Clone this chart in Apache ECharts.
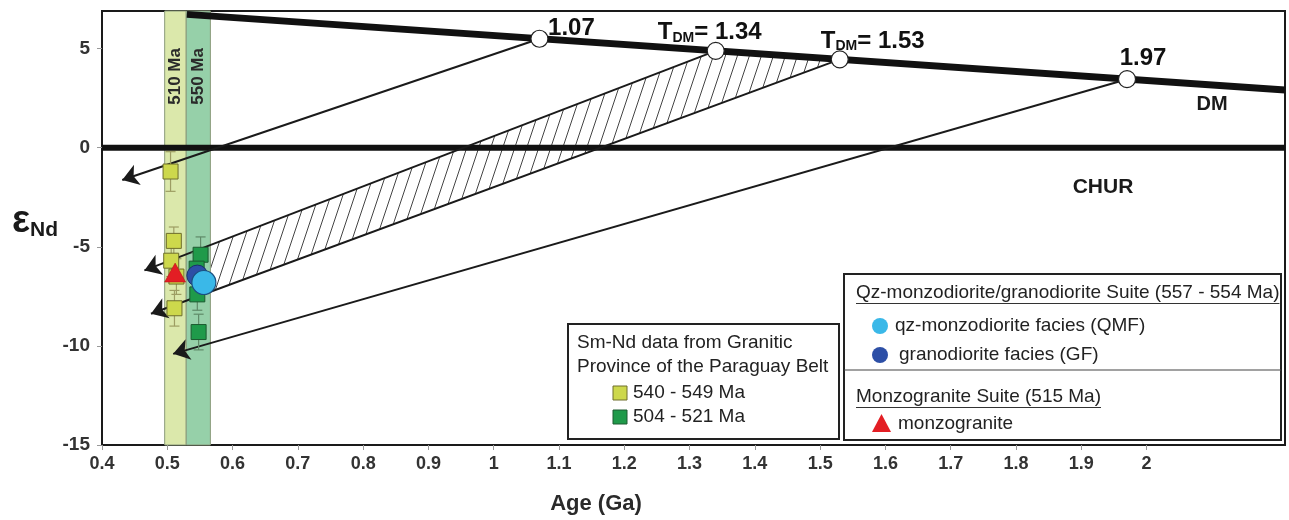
<!DOCTYPE html>
<html>
<head>
<meta charset="utf-8">
<script src="https://cdn.jsdelivr.net/npm/echarts@6/dist/echarts.min.js"></script>
<style>
  html, body { margin: 0; padding: 0; background: #fff; }
  #chart { width: 1289px; height: 520px; }
</style>
</head>
<body>
<div id="chart"></div>
<script>
// ---- axis ranges and tick labels ----
const xMin = 0.4, xMax = 2.212, xStep = 0.1;
const yMin = -15, yMax = 6.9, yStep = 5;
const xTickValues = [0.4, 0.5, 0.6, 0.7, 0.8, 0.9, 1, 1.1, 1.2, 1.3, 1.4, 1.5, 1.6, 1.7, 1.8, 1.9, 2];
const yTickValues = [-15, -10, -5, 0, 5];

// ---- reference evolution lines (age Ga, εNd) ----
const dmLine = [[0.53, 6.73], [2.212, 2.91]];
const churLine = [[0.4, 0], [2.212, 0]];

// ---- depleted-mantle model ages on the DM line ----
const tdmAges = [1.07, 1.34, 1.53, 1.97];
const tdmEps = [5.50, 4.89, 4.46, 3.46];
const tdmLabels = ['1.07', 'T_DM= 1.34', 'T_DM= 1.53', '1.97'];
// where each Nd evolution line ends (arrow tip)
const arrowTips = [[0.431, -1.63], [0.465, -6.19], [0.475, -8.38], [0.509, -10.40]];

// ---- crystallisation age bands ----
const bandRanges = [[0.496, 0.529], [0.529, 0.566]];
const bandNames = ['510 Ma', '550 Ma'];

// ---- Sm-Nd data, Granitic Province of the Paraguay Belt ----
const groupAAge = [0.505, 0.510, 0.506, 0.514, 0.511];
const groupAEps = [-1.2, -4.7, -5.7, -6.5, -8.1];
const groupAErr = [1.0, 0.7, 0.8, 0.9, 0.9];

const groupBAge = [0.551, 0.545, 0.546, 0.548];
const groupBEps = [-5.4, -6.1, -7.4, -9.3];
const groupBErr = [0.9, 0.8, 0.8, 0.9];

// ---- this study ----
const monzoAge = [0.512];
const monzoEps = [-6.3];
const gfAge = [0.546];
const gfEps = [-6.45];
const qmfAge = [0.556];
const qmfEps = [-6.8];

const FONT = '"Liberation Sans", Arial, sans-serif';

// diagonal hatch tile
const hatch = document.createElement('canvas');
hatch.width = 12; hatch.height = 36;
(function () {
  const c = hatch.getContext('2d');
  c.strokeStyle = '#444';
  c.lineWidth = 1;
  for (let k = -1; k <= 1; k++) {
    c.beginPath();
    c.moveTo(-12 + k * 12, 72);
    c.lineTo(24 + k * 12, -36);
    c.stroke();
  }
})();

const zip3 = (a, b, c) => a.map((v, i) => [v, b[i], c[i]]);
const zip2 = (a, b) => a.map((v, i) => [v, b[i]]);

function errorBars(color) {
  return function (params, api) {
    const x = api.value(0), y = api.value(1), e = api.value(2);
    const top = api.coord([x, y + e]);
    const bot = api.coord([x, y - e]);
    const cap = 5;
    const st = { stroke: color, lineWidth: 1.2 };
    return {
      type: 'group',
      children: [
        { type: 'line', shape: { x1: top[0], y1: top[1], x2: bot[0], y2: bot[1] }, style: st },
        { type: 'line', shape: { x1: top[0] - cap, y1: top[1], x2: top[0] + cap, y2: top[1] }, style: st },
        { type: 'line', shape: { x1: bot[0] - cap, y1: bot[1], x2: bot[0] + cap, y2: bot[1] }, style: st }
      ]
    };
  };
}

// text measurement for underlined legend headings
const mctx = document.createElement('canvas').getContext('2d');
function textW(t, font) { mctx.font = font; return mctx.measureText(t).width; }

const LF = '19px "Liberation Sans", Arial, sans-serif';
const head1 = 'Qz-monzodiorite/granodiorite Suite (557 - 554 Ma)';
const head2 = 'Monzogranite Suite (515 Ma)';

const labelOffsets = [[32, -10], [-6, -18], [33, -18], [16, -21]];
const tdmRich = {
  n: { fontFamily: FONT, fontWeight: 'bold', fontSize: 24, color: '#111' },
  t: { fontFamily: FONT, fontWeight: 'bold', fontSize: 24, color: '#111' },
  s: { fontFamily: FONT, fontWeight: 'bold', fontSize: 14, color: '#111', verticalAlign: 'bottom', padding: [8, 0, 0, 0] }
};
function tdmText(lbl) {
  if (lbl.indexOf('T_DM') === 0) return '{t|T}{s|DM}{t|' + lbl.slice(4) + '}';
  return '{n|' + lbl + '}';
}

const chart = echarts.init(document.getElementById('chart'), null, { renderer: 'canvas' });

const option = {
  animation: false,
  backgroundColor: '#ffffff',
  grid: { left: 102, right: 4, top: 11, bottom: 75, show: true, borderColor: '#1a1a1a', borderWidth: 2 },
  xAxis: {
    type: 'value', min: xMin, max: xMax, interval: xStep,
    axisLine: { onZero: false, lineStyle: { color: '#1a1a1a', width: 2 } },
    axisTick: { show: true, length: 5, customValues: xTickValues, lineStyle: { color: '#999' } },
    axisLabel: { customValues: xTickValues, margin: 10, fontFamily: FONT, fontWeight: 'bold', fontSize: 18, color: '#333' },
    splitLine: { show: false }
  },
  yAxis: {
    type: 'value', min: yMin, max: yMax, interval: yStep,
    axisLine: { onZero: false, lineStyle: { color: '#1a1a1a', width: 2 } },
    axisTick: { show: true, length: 5, customValues: yTickValues, lineStyle: { color: '#999' } },
    axisLabel: { customValues: yTickValues, margin: 12, fontFamily: FONT, fontWeight: 'bold', fontSize: 19, color: '#333' },
    splitLine: { show: false }
  },
  series: [
    // hatched field between the 1.34 and 1.53 Ga evolution lines
    {
      type: 'custom', z: 1, silent: true,
      data: [[tdmAges[1], tdmEps[1]]],
      renderItem: function (params, api) {
        const p2 = [tdmAges[1], tdmEps[1]], p3 = [tdmAges[2], tdmEps[2]];
        const a2 = arrowTips[1], a3 = arrowTips[2];
        const cut = bandRanges[1][1];
        const at = (p, a) => { const t = (cut - a[0]) / (p[0] - a[0]); return [cut, a[1] + t * (p[1] - a[1])]; };
        const pts = [p2, p3, at(p3, a3), at(p2, a2)].map(v => api.coord(v));
        return { type: 'polygon', shape: { points: pts }, style: { fill: { image: hatch, repeat: 'repeat' }, stroke: null } };
      }
    },
    // age bands
    {
      type: 'custom', z: 2, silent: true,
      data: bandRanges.map((r, i) => [r[0], r[1], i]),
      renderItem: function (params, api) {
        const a = api.coord([api.value(0), yMax]);
        const b = api.coord([api.value(1), yMin]);
        const i = api.value(2);
        const fills = ['#dbe8ab', '#96d0a9'];
        const mid = api.coord([(api.value(0) + api.value(1)) / 2, 3.6]);
        return {
          type: 'group',
          children: [
            { type: 'rect', shape: { x: a[0], y: a[1], width: b[0] - a[0], height: b[1] - a[1] }, style: { fill: fills[i], stroke: '#8a9a7a', lineWidth: 1 } },
            { type: 'text', x: mid[0], y: mid[1], rotation: Math.PI / 2,
              style: { text: bandNames[i], align: 'center', verticalAlign: 'middle', font: 'bold 17px ' + FONT, fill: '#2a2a2a' } }
          ]
        };
      }
    },
    // CHUR
    {
      type: 'line', z: 3, data: churLine, symbol: 'none', silent: true,
      lineStyle: { color: '#111', width: 6 }
    },
    // DM
    {
      type: 'line', z: 3, data: dmLine, symbol: 'none', silent: true,
      lineStyle: { color: '#111', width: 7 }
    },
    // Nd evolution lines with arrows
    {
      type: 'lines', coordinateSystem: 'cartesian2d', z: 4, silent: true,
      symbol: ['none', 'arrow'], symbolSize: 16,
      lineStyle: { color: '#1a1a1a', width: 2, opacity: 1, curveness: 0 },
      data: tdmAges.map((a, i) => ({ coords: [[a, tdmEps[i]], arrowTips[i]] }))
    },
    // model-age points
    {
      type: 'scatter', z: 6, symbol: 'circle', symbolSize: 17, silent: true,
      itemStyle: { color: '#fff', borderColor: '#222', borderWidth: 1.2, opacity: 1 },
      data: tdmAges.map((a, i) => ({
        value: [a, tdmEps[i]],
        label: {
          show: true, position: 'inside', offset: labelOffsets[i],
          formatter: tdmText(tdmLabels[i]), rich: tdmRich
        }
      }))
    },
    // error bars
    { type: 'custom', z: 5, silent: true, data: zip3(groupAAge, groupAEps, groupAErr), renderItem: errorBars('#9d9d63') },
    { type: 'custom', z: 5, silent: true, data: zip3(groupBAge, groupBEps, groupBErr), renderItem: errorBars('#5f8a68') },
    // squares
    {
      name: '540 - 549 Ma', type: 'scatter', z: 6, symbol: 'rect', symbolSize: 15, silent: true,
      itemStyle: { color: '#cdd84c', borderColor: '#6e6e2c', borderWidth: 1, opacity: 1 },
      data: zip2(groupAAge, groupAEps)
    },
    {
      name: '504 - 521 Ma', type: 'scatter', z: 6, symbol: 'rect', symbolSize: 15, silent: true,
      itemStyle: { color: '#1f9a4a', borderColor: '#1c5a30', borderWidth: 1, opacity: 1 },
      data: zip2(groupBAge, groupBEps)
    },
    {
      name: 'monzogranite', type: 'scatter', z: 7, symbol: 'triangle', symbolSize: [21, 19], silent: true,
      itemStyle: { color: '#e31e24', borderColor: '#b01015', borderWidth: 0.5, opacity: 1 },
      data: zip2(monzoAge, monzoEps)
    },
    {
      name: 'granodiorite facies (GF)', type: 'scatter', z: 7, symbol: 'circle', symbolSize: 21, silent: true,
      itemStyle: { color: '#2d4fa6', borderColor: '#1b2f6a', borderWidth: 1, opacity: 1 },
      data: zip2(gfAge, gfEps)
    },
    {
      name: 'qz-monzodiorite facies (QMF)', type: 'scatter', z: 8, symbol: 'circle', symbolSize: 24, silent: true,
      itemStyle: { color: '#3ab8e8', borderColor: '#1b4f80', borderWidth: 1.2, opacity: 1 },
      data: zip2(qmfAge, qmfEps)
    }
  ],
  graphic: [
    // curve labels
    { type: 'text', x: 1212, y: 104, style: { text: 'DM', font: 'bold 20px ' + FONT, fill: '#1a1a1a', align: 'center', verticalAlign: 'middle' } },
    { type: 'text', x: 1103, y: 187, style: { text: 'CHUR', font: 'bold 21px ' + FONT, fill: '#1a1a1a', align: 'center', verticalAlign: 'middle' } },
    // axis titles
    { type: 'text', x: 596, y: 504, style: { text: 'Age (Ga)', font: 'bold 22px ' + FONT, fill: '#2a2a2a', align: 'center', verticalAlign: 'middle' } },
    { type: 'text', x: 12, y: 222, style: {
        text: '{e|ε}{n|Nd}', verticalAlign: 'middle',
        rich: {
          e: { fontFamily: FONT, fontWeight: 'bold', fontSize: 38, fill: '#1a1a1a', color: '#1a1a1a' },
          n: { fontFamily: FONT, fontWeight: 'bold', fontSize: 21, fill: '#1a1a1a', color: '#1a1a1a', verticalAlign: 'bottom', padding: [10, 0, 0, 0] }
        }
    } },
    // legend: Paraguay Belt data
    { type: 'rect', shape: { x: 568, y: 324, width: 271, height: 115 }, style: { fill: '#fff', stroke: '#222', lineWidth: 2 }, z: 10 },
    { type: 'text', x: 577, y: 343, z: 11, style: { text: 'Sm-Nd data from Granitic', font: LF, fill: '#222', verticalAlign: 'middle' } },
    { type: 'text', x: 577, y: 367, z: 11, style: { text: 'Province of the Paraguay Belt', font: LF, fill: '#222', verticalAlign: 'middle' } },
    { type: 'rect', z: 11, shape: { x: 613, y: 386, width: 14, height: 14 }, style: { fill: '#cdd84c', stroke: '#6e6e2c', lineWidth: 1 } },
    { type: 'text', x: 633, y: 393, z: 11, style: { text: '540 - 549 Ma', font: LF, fill: '#222', verticalAlign: 'middle' } },
    { type: 'rect', z: 11, shape: { x: 613, y: 410, width: 14, height: 14 }, style: { fill: '#1f9a4a', stroke: '#1c5a30', lineWidth: 1 } },
    { type: 'text', x: 633, y: 417, z: 11, style: { text: '504 - 521 Ma', font: LF, fill: '#222', verticalAlign: 'middle' } },
    // legend: suites
    { type: 'rect', shape: { x: 844, y: 274, width: 437, height: 166 }, style: { fill: '#fff', stroke: '#222', lineWidth: 2 }, z: 10 },
    { type: 'line', z: 11, shape: { x1: 844, y1: 370, x2: 1281, y2: 370 }, style: { stroke: '#444', lineWidth: 1.2 } },
    { type: 'text', x: 856, y: 293, z: 11, style: { text: head1, font: LF, fill: '#222', verticalAlign: 'middle' } },
    { type: 'line', z: 11, shape: { x1: 856, y1: 303.5, x2: 856 + textW(head1, LF), y2: 303.5 }, style: { stroke: '#333', lineWidth: 1 } },
    { type: 'circle', z: 11, shape: { cx: 880, cy: 326, r: 8 }, style: { fill: '#3ab8e8' } },
    { type: 'text', x: 895, y: 326, z: 11, style: { text: 'qz-monzodiorite facies (QMF)', font: LF, fill: '#222', verticalAlign: 'middle' } },
    { type: 'circle', z: 11, shape: { cx: 880, cy: 355, r: 8 }, style: { fill: '#2d4fa6' } },
    { type: 'text', x: 899, y: 355, z: 11, style: { text: 'granodiorite facies (GF)', font: LF, fill: '#222', verticalAlign: 'middle' } },
    { type: 'text', x: 856, y: 397, z: 11, style: { text: head2, font: LF, fill: '#222', verticalAlign: 'middle' } },
    { type: 'line', z: 11, shape: { x1: 856, y1: 407.5, x2: 856 + textW(head2, LF), y2: 407.5 }, style: { stroke: '#333', lineWidth: 1 } },
    { type: 'polygon', z: 11, shape: { points: [[872, 432], [891, 432], [881.5, 414]] }, style: { fill: '#e31e24' } },
    { type: 'text', x: 898, y: 424, z: 11, style: { text: 'monzogranite', font: LF, fill: '#222', verticalAlign: 'middle' } }
  ]
};

chart.setOption(option);
</script>
</body>
</html>
